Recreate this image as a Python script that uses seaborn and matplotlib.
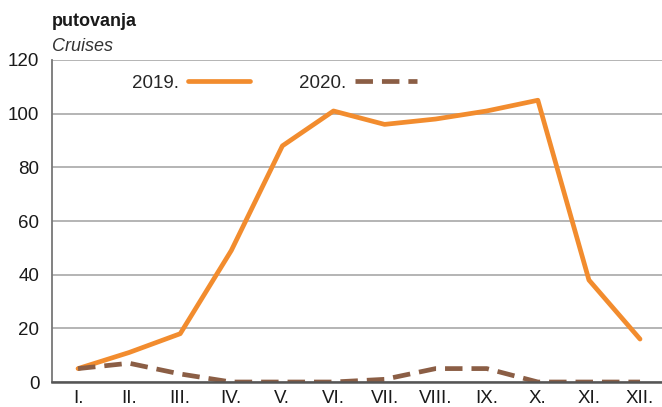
import matplotlib
matplotlib.use('Agg')
import matplotlib.pyplot as plt
import seaborn as sns
import pandas as pd

# Data
months = ['I.', 'II.', 'III.', 'IV.', 'V.', 'VI.', 'VII.', 'VIII.', 'IX.', 'X.', 'XI.', 'XII.']
cruises_2019 = [5, 11, 18, 49, 88, 101, 96, 98, 101, 105, 38, 16]
cruises_2020 = [5, 7, 3, 0, 0, 0, 1, 5, 5, 0, 0, 0]
series = ['2019.', '2020.']

df = pd.DataFrame({
    'month': list(range(len(months))) * 2,
    'value': cruises_2019 + cruises_2020,
    'year': [series[0]] * len(months) + [series[1]] * len(months),
})

sns.set_style('white')
plt.rcParams['font.family'] = ['Liberation Sans', 'DejaVu Sans']

fig = plt.figure(figsize=(6.62, 4.07), dpi=100)
ax = fig.add_axes([0.0785, 0.0614, 0.9215, 0.7912])

colors = {'2019.': '#F28C2E', '2020.': '#8B5E45'}
sns.lineplot(data=df, x='month', y='value', hue='year', style='year',
             palette=colors, dashes={'2019.': '', '2020.': (3.7, 1.9)},
             linewidth=3.4, ax=ax)

ax.set_xlim(-0.51, 11.43)
ax.set_ylim(0, 120)
ax.set_yticks(range(0, 121, 20))
ax.set_xticks(range(len(months)))
ax.set_xticklabels(months)
ax.tick_params(axis='both', labelsize=13.5, length=0, colors='#1a1a1a')
ax.tick_params(axis='x', pad=6)
ax.tick_params(axis='y', pad=9)
ax.set_xlabel('')
ax.set_ylabel('')

ax.yaxis.grid(True, color='#a0a0a0', linewidth=1.1)
ax.set_axisbelow(True)
for s in ['top', 'right']:
    ax.spines[s].set_visible(False)
ax.spines['left'].set_color('#777777')
ax.spines['left'].set_linewidth(1.3)
ax.spines['bottom'].set_color('#555555')
ax.spines['bottom'].set_linewidth(1.8)

leg = ax.legend(ncol=2, frameon=False, markerfirst=False, loc='upper left',
                bbox_to_anchor=(0.103, 1.007), fontsize=13.5, handlelength=3.3,
                columnspacing=2.6, handletextpad=0.5)

fig.text(0.0785, 0.935, 'putovanja', fontsize=13, fontweight='bold', color='#1a1a1a')
fig.text(0.0785, 0.875, 'Cruises', fontsize=13, fontstyle='italic', color='#333333')

fig.savefig('out.png', dpi=100)
